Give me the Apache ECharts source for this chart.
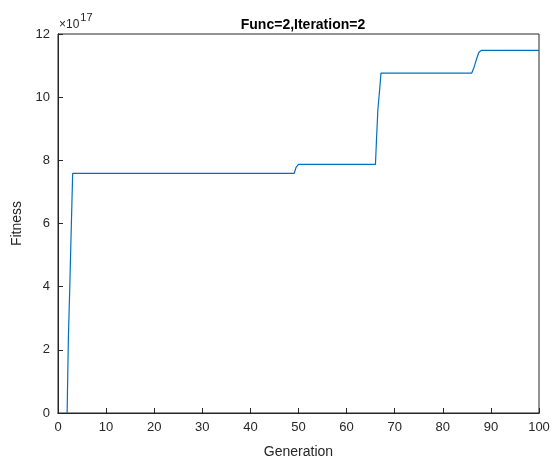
<!DOCTYPE html>
<html>
<head>
<meta charset="utf-8">
<script src="https://cdn.jsdelivr.net/npm/echarts@6/dist/echarts.min.js"></script>
<style>html,body{margin:0;padding:0;background:#fff;}#c{width:555px;height:461px;}</style>
</head>
<body>
<div id="c"></div>
<script>
// Generation (x) and Fitness (in units of 1e17)
const generation = [1.9, 1.95, 2.15, 2.45, 2.75, 3.05, 49.1, 49.5, 50.0, 66.0, 66.2, 66.5, 66.9, 67.15, 86.0, 86.5, 87.0, 87.5, 88.0, 100];
const fitness    = [0,   0.5,  2.3,  4.0,  5.8,  7.59, 7.59, 7.78, 7.87, 7.87, 8.6,  9.6,  10.3, 10.76, 10.76, 10.95, 11.2, 11.42, 11.48, 11.48];
const xTicks = [0, 10, 20, 30, 40, 50, 60, 70, 80, 90, 100];
const yTicks = [0, 2, 4, 6, 8, 10, 12];
const titleText = 'Func=2,Iteration=2';
const xName = 'Generation';
const yName = 'Fitness';
const exponent = '17';

const axisColor = '#262626';
const font = 'Liberation Sans, Arial, Helvetica, sans-serif';
const chart = echarts.init(document.getElementById('c'));
const pts = generation.map((g, i) => [g, fitness[i]]);
function xAxisDef(pos, onZero, ticks, extra) {
  return Object.assign({
    type: 'value', min: xTicks[0], max: xTicks[xTicks.length - 1], interval: 10,
    gridIndex: 0, position: pos,
    axisLine: { show: true, onZero: onZero, lineStyle: { color: axisColor, width: 1 } },
    axisTick: { show: ticks, inside: false, length: 5, lineStyle: { color: axisColor, width: 1 } },
    splitLine: { show: false }
  }, extra);
}
function yAxisDef(pos, onZero, ticks, extra) {
  return Object.assign({
    type: 'value', min: yTicks[0], max: yTicks[yTicks.length - 1], interval: 2,
    gridIndex: 0, position: pos,
    axisLine: { show: true, onZero: onZero, lineStyle: { color: axisColor, width: 1 } },
    axisTick: { show: ticks, inside: false, length: 5, lineStyle: { color: axisColor, width: 1 } },
    splitLine: { show: false }
  }, extra);
}
chart.setOption({
  animation: false,
  backgroundColor: '#fff',
  title: {
    text: titleText, left: 298, top: 13, textAlign: 'center',
    textStyle: { fontFamily: font, fontSize: 14, fontWeight: 'bold', color: '#000' }
  },
  grid: {
    left: 58, right: 16, top: 34, bottom: 48, containLabel: false, outerBoundsMode: 'none',
    show: true, borderColor: axisColor, borderWidth: 1, backgroundColor: 'transparent'
  },
  xAxis: [
    xAxisDef('bottom', false, false, {
      name: xName, nameLocation: 'middle', nameGap: 32,
      nameTextStyle: { fontFamily: font, fontSize: 14, color: axisColor },
      axisLabel: { show: true, color: axisColor, fontFamily: font, fontSize: 13, margin: 8 }
    }),
    // top-positioned axis moved onto the zero line (bottom) so its ticks point into the plot
    xAxisDef('top', true, true, { axisLabel: { show: false } })
  ],
  yAxis: [
    yAxisDef('left', false, false, {
      name: yName, nameLocation: 'middle', nameGap: 30,
      nameTextStyle: { fontFamily: font, fontSize: 14, color: axisColor },
      axisLabel: { show: true, color: axisColor, fontFamily: font, fontSize: 13, margin: 8 }
    }),
    // right-positioned axis moved onto the zero line (left) so its ticks point into the plot
    yAxisDef('right', true, true, { axisLabel: { show: false } })
  ],
  graphic: [{
    type: 'text', left: 59, top: 12,
    style: {
      text: '{a|×10}{b|' + exponent + '}',
      rich: {
        a: { fontFamily: font, fontSize: 12, fill: axisColor, verticalAlign: 'bottom', padding: [7, 0, 0, 0] },
        b: { fontFamily: font, fontSize: 11, fill: axisColor, verticalAlign: 'top', padding: [0, 0, 7, 1] }
      }
    }
  }],
  series: [
    {
      type: 'line', data: pts, xAxisIndex: 0, yAxisIndex: 0,
      showSymbol: false, symbol: 'none',
      lineStyle: { color: '#0072BD', width: 1.2 }
    },
    {
      type: 'line', data: [], xAxisIndex: 1, yAxisIndex: 1,
      showSymbol: false, silent: true
    }
  ]
});
</script>
</body>
</html>
